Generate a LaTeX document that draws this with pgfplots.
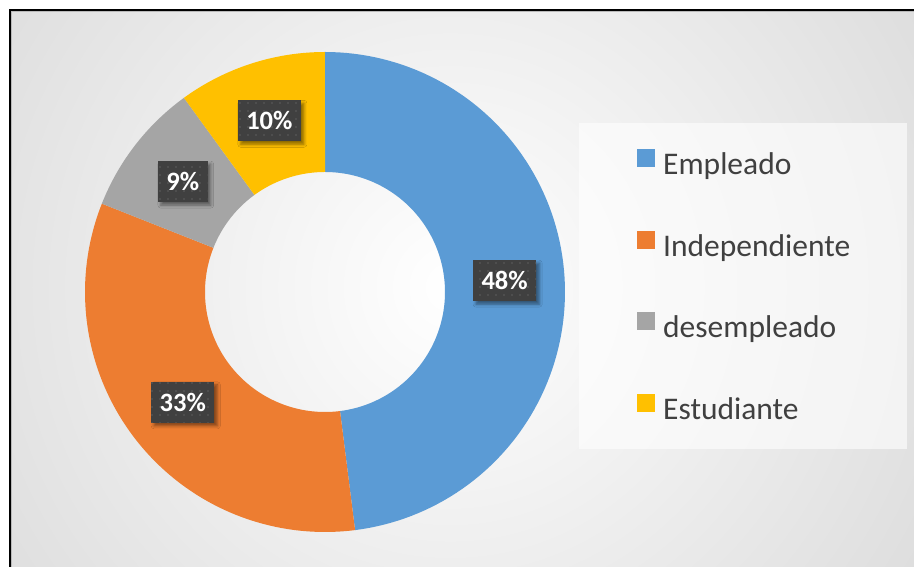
\documentclass[border=0pt]{standalone}
\usepackage{pgfplots}
\pgfplotsset{compat=1.18}
\usepackage{pgfplotstable}
\usepackage{fontspec}
\setmainfont{Carlito}
\usetikzlibrary{patterns.meta,shadows,shadows.blur}

\definecolor{cEmp}{HTML}{5B9BD5}
\definecolor{cInd}{HTML}{ED7D31}
\definecolor{cDes}{HTML}{A5A5A5}
\definecolor{cEst}{HTML}{FFC000}
\definecolor{lblbg}{HTML}{404040}
\definecolor{lbldot}{HTML}{5E5E5E}
\definecolor{legtext}{HTML}{404040}
\definecolor{bgedge}{HTML}{C2C2C2}

\pgfplotstableread{
label value
Empleado 48
Independiente 33
desempleado 9
Estudiante 10
}\donutdata

\newcommand\getval[2]{\pgfplotstablegetelem{#1}{value}\of\donutdata\let#2\pgfplotsretval}

% one donut sector: colour, cumulative start, cumulative end
\newcommand\slice[3]{%
  \addplot[fill=#1, draw=none, domain=0:201, samples=202, variable=\t]
    ({325+((\t<100.5)?240:120)*cos(90-360/\cE*(#2+(#3-#2)*((\t<100.5)?\t:(201-\t))/100))},
     {275+((\t<100.5)?240:120)*sin(90-360/\cE*(#2+(#3-#2)*((\t<100.5)?\t:(201-\t))/100))});
}

\tikzset{lbl/.style={font=\fontsize{26.5}{30}\selectfont\bfseries, text=white,
  minimum height=41pt, inner xsep=8.5pt, inner ysep=0pt,
  blur shadow={shadow xshift=3pt, shadow yshift=-3pt, shadow blur radius=3pt, shadow opacity=45},
  preaction={fill=lblbg}, pattern={Dots[distance=8pt,radius=0.9pt]}, pattern color=lbldot}}

\begin{document}
\begin{tikzpicture}
\getval{0}\vA \getval{1}\vB \getval{2}\vC \getval{3}\vD
\pgfmathsetmacro\cA{0}
\pgfmathsetmacro\cB{\vA}
\pgfmathsetmacro\cC{\vA+\vB}
\pgfmathsetmacro\cD{\vA+\vB+\vC}
\pgfmathsetmacro\cE{\vA+\vB+\vC+\vD}
\pgfmathsetmacro\mA{90-360/\cE*(\cA+\cB)/2}
\pgfmathsetmacro\mB{90-360/\cE*(\cB+\cC)/2}
\pgfmathsetmacro\mC{90-360/\cE*(\cC+\cD)/2}
\pgfmathsetmacro\mD{90-360/\cE*(\cD+\cE)/2}
\useasboundingbox (0,0) rectangle (914pt,567pt);
\clip (0,0) rectangle (914pt,567pt);
\fill[white] (0,0) rectangle (914pt,567pt);
\begin{scope}
  \clip (10pt,-10pt) rectangle (930pt,557pt);
  \shade[inner color=white, outer color=bgedge] (450pt,280pt) circle (1000pt);
\end{scope}
\draw[gray!55, line width=1pt] (11.5pt,-10pt) -- (11.5pt,555.5pt) -- (930pt,555.5pt);
\draw[black, line width=2pt, line join=miter] (10pt,-10pt) -- (10pt,557pt) -- (930pt,557pt);
\fill[white, opacity=0.6] (579pt,118pt) rectangle (907pt,444pt);

\begin{axis}[at={(0,0)}, anchor=south west, scale only axis,
  width=914pt, height=567pt, xmin=0, xmax=914, ymin=0, ymax=567,
  hide axis, clip=false,
  legend cell align=left,
  legend style={at={(axis cs:637,418)}, anchor=north west, draw=none, fill=none,
    font=\fontsize{31.5}{37}\selectfont, text=legtext, row sep=49pt, column sep=8pt,
    inner sep=0pt, nodes={inner sep=0pt, text height=22pt, text depth=7pt}},
  legend image code/.code={\fill[#1] (0pt,0pt) rectangle (18pt,18pt);}]
\slice{cEmp}{\cA}{\cB}
\addlegendentry{Empleado}
\slice{cInd}{\cB}{\cC}
\addlegendentry{Independiente}
\slice{cDes}{\cC}{\cD}
\addlegendentry{desempleado}
\slice{cEst}{\cD}{\cE}
\addlegendentry{Estudiante}
\node[lbl] at (axis cs:{325+180*cos(\mA)},{275+180*sin(\mA)}) {\vA\%};
\node[lbl] at (axis cs:{325+180*cos(\mB)},{275+180*sin(\mB)}) {\vB\%};
\node[lbl] at (axis cs:{325+180*cos(\mC)},{275+180*sin(\mC)}) {\vC\%};
\node[lbl] at (axis cs:{325+180*cos(\mD)},{275+180*sin(\mD)}) {\vD\%};
\end{axis}
\end{tikzpicture}
\end{document}
